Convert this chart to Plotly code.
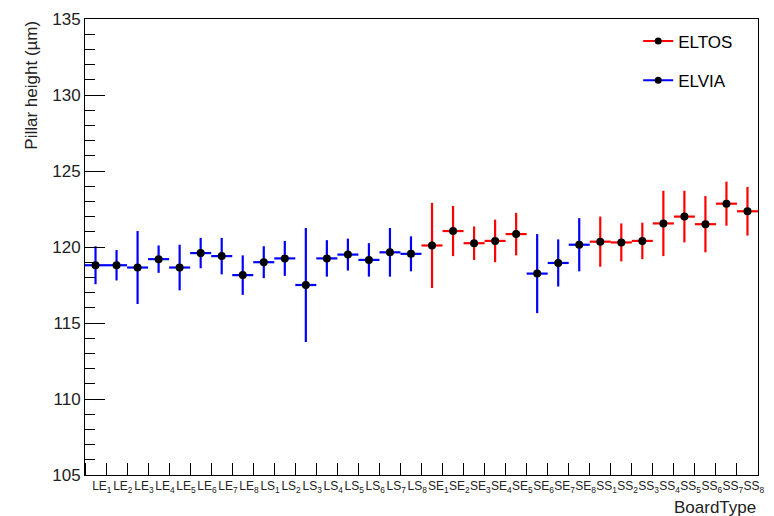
import plotly.graph_objects as go

categories = ["LE1","LE2","LE3","LE4","LE5","LE6","LE7","LE8",
              "LS1","LS2","LS3","LS4","LS5","LS6","LS7","LS8",
              "SE1","SE2","SE3","SE4","SE5","SE6","SE7","SE8",
              "SS1","SS2","SS3","SS4","SS5","SS6","SS7","SS8"]
heights = [118.8,118.8,118.65,119.2,118.65,119.6,119.4,118.15,
           119.0,119.25,117.5,119.25,119.5,119.15,119.65,119.55,
           120.1,121.05,120.25,120.4,120.85,118.25,118.95,120.15,
           120.35,120.3,120.4,121.55,122.0,121.5,122.85,122.35]
errors = [1.25,1.0,2.4,0.9,1.5,1.0,1.2,1.3,
          1.05,1.15,3.75,1.2,1.05,1.1,1.6,1.15,
          2.8,1.65,1.1,1.4,1.4,2.6,1.55,1.75,
          1.65,1.25,1.2,2.15,1.7,1.85,1.45,1.6]
vendor = ["ELVIA"]*16 + ["ELTOS"]*5 + ["ELVIA"]*3 + ["ELTOS"]*8

colors = {"ELTOS": "#ff0000", "ELVIA": "#0000ff"}
FONT = "Liberation Sans, Arial, sans-serif"

def label(c):
    return f"{c[:2]}<sub>{c[2:]}</sub>"

fig = go.Figure()
for name in ["ELTOS", "ELVIA"]:
    idx = [i for i, v in enumerate(vendor) if v == name]
    fig.add_trace(go.Scatter(
        x=idx, y=[heights[i] for i in idx], mode="markers",
        marker=dict(color="black", size=8),
        error_y=dict(type="data", array=[errors[i] for i in idx], color=colors[name],
                     thickness=2.2, width=0),
        error_x=dict(type="data", array=[0.5]*len(idx), color=colors[name],
                     thickness=2.2, width=0),
        showlegend=False, hoverinfo="skip"))
for gi, name in enumerate(["ELTOS", "ELVIA"]):
    fig.add_trace(go.Scatter(
        x=[None], y=[None], mode="lines+markers", name=name, legendgroup=name,
        line=dict(color=colors[name], width=2),
        marker=dict(color="black", size=7)))

fig.update_layout(
    width=774, height=516,
    margin=dict(l=85, r=10, t=13, b=41),
    paper_bgcolor="white", plot_bgcolor="white",
    font=dict(family=FONT, color="black"),
    legend=dict(x=0.822, y=0.99, xanchor="left", yanchor="top",
                font=dict(size=17, family=FONT), bgcolor="rgba(0,0,0,0)",
                tracegroupgap=14, itemwidth=30),
    xaxis=dict(range=[-0.5, len(categories)-0.5], showgrid=False, zeroline=False,
               showline=True, linecolor="black", linewidth=1, mirror=True,
               tickmode="array", tickvals=[i + 0.3 for i in range(len(categories))],
               ticktext=[label(c) for c in categories], ticks="", tickangle=0,
               tickfont=dict(size=12, family=FONT, color="#222"),
               minor=dict(ticks="inside", tick0=-0.5, dtick=1, ticklen=12,
                          tickcolor="black", tickwidth=1)),
    yaxis=dict(range=[105, 135], showgrid=False, zeroline=False,
               showline=True, linecolor="black", linewidth=1, mirror=True,
               tickmode="linear", tick0=105, dtick=5, ticks="inside", ticklen=20,
               tickcolor="black", tickfont=dict(size=17, family=FONT, color="#222"),
               minor=dict(ticks="inside", dtick=1, ticklen=10, tickcolor="black")),
    annotations=[
        dict(text="Pillar height (µm)", textangle=-90, xref="paper", yref="paper",
             x=-0.08, y=1.0, xanchor="center", yanchor="top", showarrow=False,
             font=dict(size=17, family=FONT, color="#222")),
        dict(text="BoardType", xref="paper", yref="paper", x=1.0, y=-0.071,
             xanchor="right", yanchor="middle", showarrow=False,
             font=dict(size=17, family=FONT, color="#222")),
    ],
)
fig.write_html("out.html")
